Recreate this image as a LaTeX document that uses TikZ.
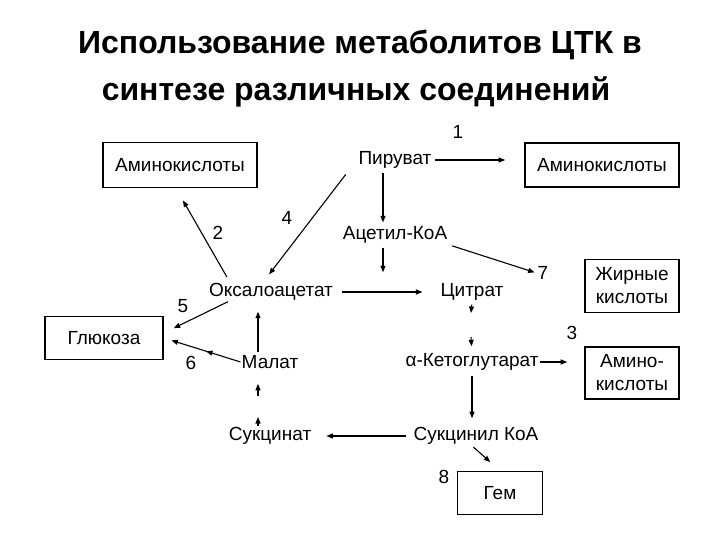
\documentclass[tikz,border=0pt]{standalone}
\usepackage{fontspec}
\setmainfont{Liberation Sans}
\usetikzlibrary{arrows.meta,decorations.markings}

\begin{document}
\begin{tikzpicture}
[x=1pt,y=-1pt,every node/.style={font=\fontsize{19}{23}\selectfont,inner sep=1pt},
 box/.style={draw,line width=1.6pt,align=center},
 title/.style={font=\fontsize{32}{36}\selectfont\bfseries},
 tip/.style={-{Triangle[length=6.5pt,width=5pt]}},
 midarrow/.style={postaction={decorate},decoration={markings,
   mark=at position #1 with {\arrow{Triangle[length=6.5pt,width=5pt]}}}}]
   \useasboundingbox (0,0) rectangle (720,540);
   \node[title] (t_1) at (360,45) {Использование метаболитов ЦТК в};
   \node[title] (t_2) at (356,92) {синтезе различных соединений};
   % metabolites
   \node (m_pyr)  at (395,160) {Пируват};
   \node (m_acoa) at (395,235) {Ацетил-КоА};
   \node (m_oaa)  at (271,292) {Оксалоацетат};
   \node (m_cit)  at (472,292) {Цитрат};
   \node (m_akg)  at (472,362) {α-Кетоглутарат};
   \node (m_scoa) at (476,436) {Сукцинил КоА};
   \node (m_suc)  at (270,436) {Сукцинат};
   \node (m_mal)  at (270,362) {Малат};
   % products
   \node[box,minimum width=154pt,minimum height=45pt] (b_aa1) at (180,165) {Аминокислоты};
   \node[box,minimum width=154pt,minimum height=44pt] (b_aa2) at (602,165) {Аминокислоты};
   \node[box,minimum width=94pt,minimum height=53pt] (b_fa) at (632,286) {Жирные\\кислоты};
   \node[box,minimum width=94pt,minimum height=52pt] (b_aa3) at (632,373) {Амино-\\кислоты};
   \node[box,minimum width=118pt,minimum height=43pt] (b_glc) at (104,338) {Глюкоза};
   \node[box,minimum width=85pt,minimum height=43pt] (b_hem) at (500,493) {Гем};
   % reaction numbers
   \node (n_1) at (458,132) {1};
   \node (n_2) at (218,233) {2};
   \node (n_3) at (572,333) {3};
   \node (n_4) at (287,218) {4};
   \node (n_5) at (183,306) {5};
   \node (n_6) at (191,363) {6};
   \node (n_7) at (543,273) {7};
   \node (n_8) at (444,477) {8};
   % broken arrows
   \coordinate (c_1) at (471,313);
   \coordinate (c_2) at (471,337);
   \coordinate (c_3) at (258,417);
   \coordinate (c_4) at (258,396);
    \path[every edge/.style={draw,line width=1.1pt,tip}]
    (m_pyr.east) edge[shorten <=2pt,shorten >=19pt] (m_pyr.east -| b_aa2.west)
    ([xshift=-12pt]m_pyr.south) edge[shorten <=3pt,shorten >=3pt] ([xshift=-12pt]m_acoa.north)
    ([xshift=-12pt]m_acoa.south) edge[shorten <=3pt,shorten >=10pt] ([xshift=-12pt]m_acoa.south |- m_oaa.north)
    (m_acoa.south east) edge[shorten <=4pt,shorten >=2pt] (n_7.west)
    ([xshift=-8pt]m_pyr.south west) edge[shorten <=6pt,shorten >=10pt] ([xshift=-8pt]m_oaa.north)
    ([xshift=22pt]m_oaa.north west) edge[shorten <=6pt,shorten >=14pt] ([xshift=-4pt]b_aa1.south)
    (m_oaa.east) edge[shorten <=8pt,shorten >=17pt] (m_cit.west)
    (m_cit.south) edge[shorten <=3pt] (c_1)
    (c_2) edge[shorten >=6pt] (m_akg.north)
    (m_akg.east) edge[shorten >=17pt] (m_akg.east -| b_aa3.west)
    (m_akg.south) edge[shorten <=4pt,shorten >=8pt] (m_akg.south |- m_scoa.north)
    (m_scoa.west) edge[shorten <=6pt,shorten >=14pt] (m_suc.east)
    ([xshift=-4pt]m_scoa.south) edge[shorten <=2pt,shorten >=13pt] (b_hem.north)
    ([xshift=-12pt]m_suc.north) edge (c_3)
    (c_4) edge[shorten >=14pt] ([xshift=-12pt]m_mal.south)
    ([xshift=-12pt]m_mal.north) edge[shorten <=2pt,shorten >=10pt] ([xshift=-12pt]m_mal.north |- m_oaa.south)
    ([xshift=20pt]m_oaa.south west) edge[shorten >=11pt] ([yshift=5pt]b_glc.east);
    \draw[line width=1.1pt,midarrow=0.45,tip,shorten >=8pt]
    (m_mal.west) -- (b_glc.east);

\end{tikzpicture}
\end{document}
